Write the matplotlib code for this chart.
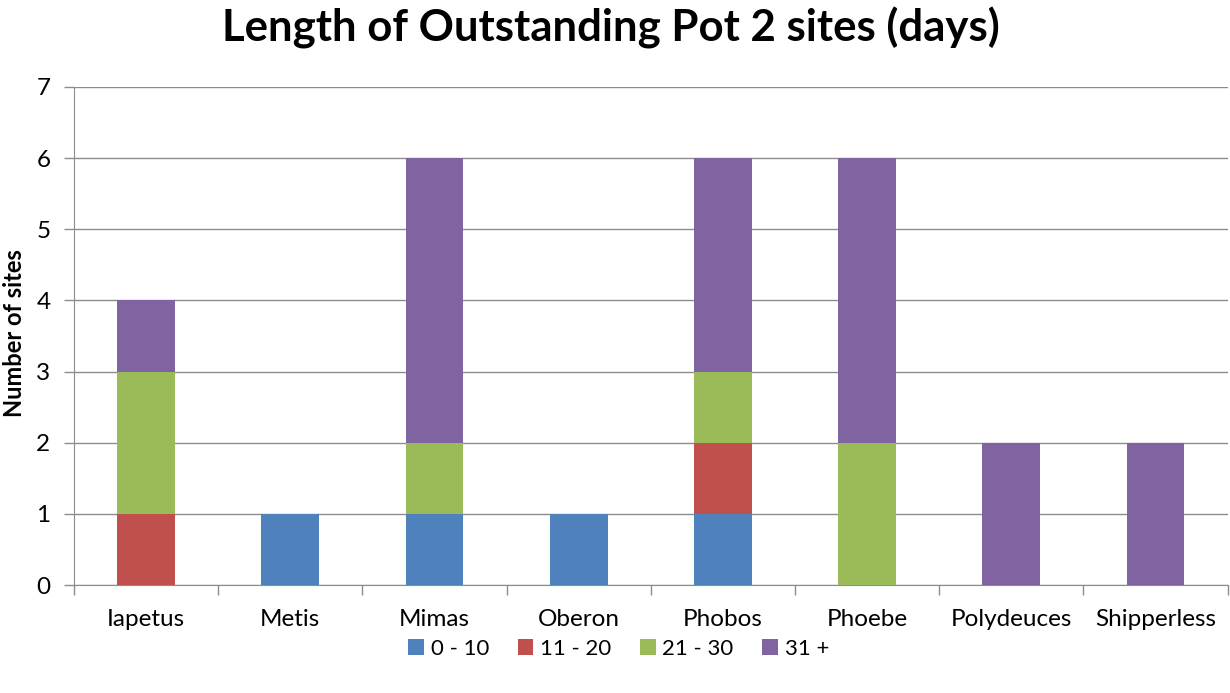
import matplotlib
matplotlib.use('Agg')
import matplotlib.pyplot as plt
import numpy as np

plt.rcParams['font.family'] = ['Lato', 'DejaVu Sans']

sites = ['Iapetus', 'Metis', 'Mimas', 'Oberon', 'Phobos', 'Phoebe', 'Polydeuces', 'Shipperless']
bands = ['0 - 10', '11 - 20', '21 - 30', '31 +']
d0_10 = [0, 1, 1, 1, 1, 0, 0, 0]
d11_20 = [1, 0, 0, 0, 1, 0, 0, 0]
d21_30 = [2, 0, 1, 0, 1, 2, 0, 0]
d31_plus = [1, 0, 4, 0, 3, 4, 2, 2]
colours = ['#4F81BD', '#C0504D', '#9BBB59', '#8064A2']

fig = plt.figure(figsize=(12.3, 6.93), dpi=100)
ax = fig.add_axes([0.0602, 0.1558, 0.9378, 0.7187])

x = np.arange(len(sites))
bottom = np.zeros(len(sites))
for name, vals, c in zip(bands, [d0_10, d11_20, d21_30, d31_plus], colours):
    ax.bar(x, vals, 0.4, bottom=bottom, color=c, label=name, zorder=3)
    bottom += np.array(vals)

ax.set_xlim(-0.5, len(sites) - 0.5)
ax.set_ylim(0, 7)
ax.set_yticks(range(0, 8))
ax.yaxis.grid(True, color='#8c8c8c', linewidth=1, zorder=0)
ax.set_xticks(x)
ax.set_xticklabels(sites, fontsize=17.5)
ax.tick_params(axis='x', length=0, pad=17)
ax.set_xticks(np.arange(-0.5, len(sites)), minor=True)
ax.tick_params(axis='x', which='minor', length=7, color='#8c8c8c', width=1)
ax.tick_params(axis='y', length=7, color='#8c8c8c', width=1, labelsize=17.5, pad=10)
for s in ['top', 'right']:
    ax.spines[s].set_visible(False)
for s in ['left', 'bottom']:
    ax.spines[s].set_color('#8c8c8c')

fig.text(0.0115, 0.5195, 'Number of sites', fontsize=17, fontweight='bold',
         rotation=90, ha='center', va='center')
fig.suptitle('Length of Outstanding Pot 2 sites (days)', fontsize=31.5, fontweight='bold', x=0.497, y=0.99)

fig.legend(loc='center', bbox_to_anchor=(0.503, 0.064), ncol=4, frameon=False, fontsize=16,
           handlelength=0.7, handleheight=0.7, handletextpad=0.3, columnspacing=1.3)

fig.savefig('out.png', dpi=100)
